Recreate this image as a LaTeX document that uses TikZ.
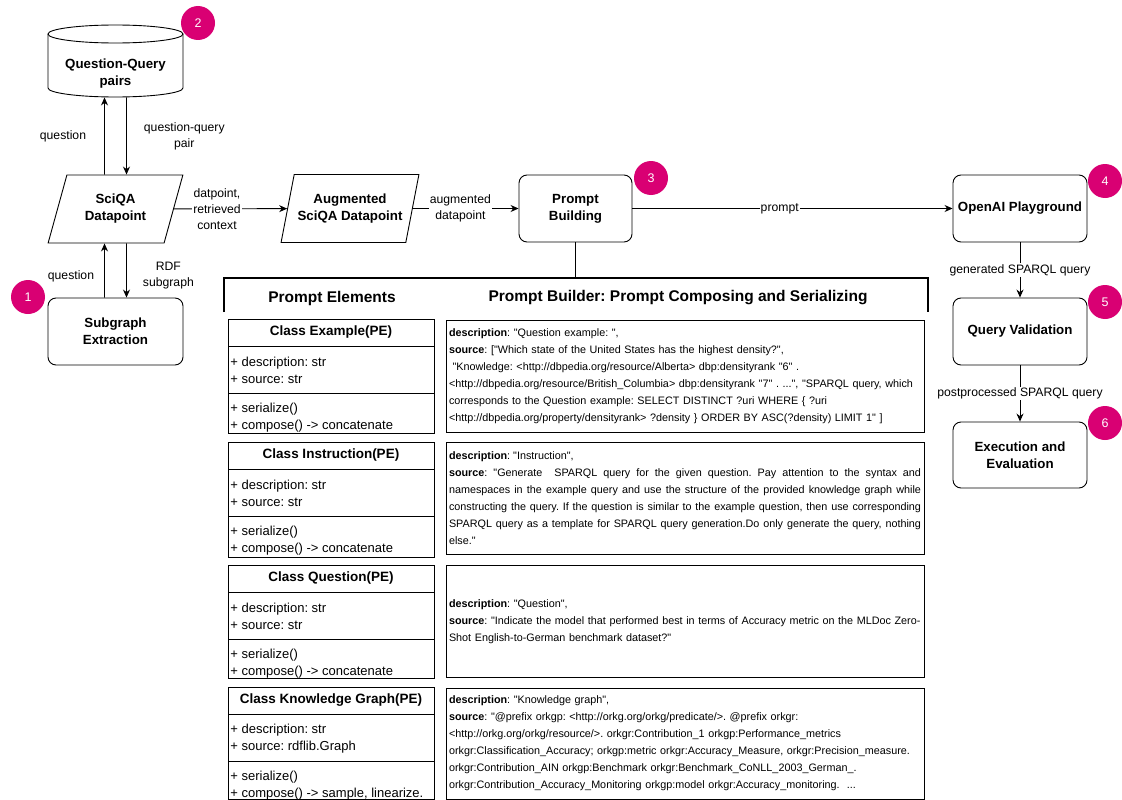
\documentclass[tikz,border=0pt]{standalone}
\usepackage{fontspec}
\setmainfont{Liberation Sans}[Ligatures=TeXOff]
\usetikzlibrary{shapes.geometric,arrows.meta,positioning}
\definecolor{badgepink}{RGB}{217,0,115}

\begin{document}
\frenchspacing
\begin{tikzpicture}[x=1pt,y=-1pt,line width=0.9pt,>={Stealth[length=8pt,width=7pt]}]
    \tikzstyle{block}=[draw, rounded corners=8pt, align=center, minimum width=134pt, minimum height=67pt, font=\fontsize{13.3}{17}\selectfont\bfseries]
    \tikzstyle{data}=[draw, trapezium, trapezium left angle=70, trapezium right angle=110, trapezium stretches=true, minimum width=135pt, minimum height=68pt, align=center, font=\fontsize{13.3}{17}\selectfont\bfseries]
    \tikzstyle{store}=[align=center, minimum width=135pt, minimum height=47pt, font=\fontsize{13.3}{17}\selectfont\bfseries]
    \tikzstyle{badge}=[circle, fill=badgepink, text=white, minimum size=34pt, inner sep=0pt, font=\fontsize{12.5}{14}\selectfont]
    \tikzstyle{elabel}=[align=center, inner sep=1pt, font=\fontsize{12.2}{16}\selectfont]
    \tikzstyle{clshead}=[font=\fontsize{13.5}{17}\selectfont\bfseries]
    \tikzstyle{clstext}=[anchor=west, align=left, inner sep=1pt, font=\fontsize{13}{17}\selectfont]
    \tikzstyle{pbox}=[draw, minimum width=478pt, minimum height=112pt, text width=472pt, inner xsep=3pt, align=left, font=\fontsize{10.8}{17}\selectfont]
    \useasboundingbox (0,0) rectangle (1122,800);

    % question-query store (cylinder)
    \draw (48,34) -- (48,88) arc[start angle=180, end angle=0, x radius=67.5, y radius=9] -- (183,34);
    \draw (115.5,34) ellipse[x radius=67.5, y radius=9];
    \node[store] (qqp) at (115.5,73.5) {Question-Query\\pairs};

    % main pipeline
    \node[data] (sciqa) at (115.5,209) {SciQA\\Datapoint};
    \node[block, minimum width=135pt] (sub) at (115.5,331.5) {Subgraph\\Extraction};
    \node[data] (aug) at (350,208.5) {Augmented\\SciQA Datapoint};
    \node[block, minimum width=113pt] (pb) at (575.5,208.5) {Prompt\\Building};
    \node[block] (op) at (1020,208.5) {OpenAI Playground};
    \node[block] (qv) at (1020,331.5) {Query Validation};
    \node[block, minimum height=66pt] (ex) at (1020,455) {Execution and\\Evaluation};

    \node[badge] (b1) at (28,297) {1};
    \node[badge] (b2) at (198,23) {2};
    \node[badge] (b3) at (651,178) {3};
    \node[badge] (b4) at (1105,181) {4};
    \node[badge] (b5) at (1105,302) {5};
    \node[badge] (b6) at (1105,423) {6};

    \draw[->] ([xshift=-11pt]sciqa.north) -- node[elabel, left=17pt] {question} ([xshift=-11pt]qqp.south);
    \draw[->] ([xshift=11pt]qqp.south) -- node[elabel, right=16pt] {question-query\\pair} ([xshift=11pt]sciqa.north);
    \draw[->] ([xshift=-11pt]sub.north) -- node[elabel, pos=0.4, left=9pt] {question} ([xshift=-11pt]sciqa.south);
    \draw[->] ([xshift=11pt]sciqa.south) -- node[elabel, pos=0.6, right=15pt] {RDF\\subgraph} ([xshift=11pt]sub.north);
    \draw[->] (sciqa) -- node[elabel, pos=0.38, fill=white] {datpoint,\\retrieved\\context} (aug);
    \draw[->] (aug) -- node[elabel, pos=0.45, fill=white] {augmented\\datapoint} (pb);
    \draw[->] (pb) -- node[elabel, pos=0.46, fill=white] {prompt} (op);
    \draw[->] (op) -- node[elabel, fill=white] {generated SPARQL query} (qv);
    \draw[->] (qv) -- node[elabel, fill=white] {postprocessed SPARQL query} (ex);

    % prompt builder bracket
    \coordinate (brk) at (575.5,278);
    \draw[line width=1.6pt] (pb.south) -- (brk);
    \draw[line width=1.6pt] (224,312) -- (224,278) -- (928,278) -- (928,312);
    \node[font=\fontsize{15.5}{17}\selectfont\bfseries] (pel) at (332,298) {Prompt Elements};
    \node[font=\fontsize{15.5}{17}\selectfont\bfseries] (pbl) at (678,298) {Prompt Builder: Prompt Composing and Serializing};

    % prompt element classes
    \draw (228,319) rectangle (434,433);
    \draw (228,346) -- (434,346);
    \draw (228,393) -- (434,393);
    \node[clshead] (c1h) at (331,332.5) {Class Example(PE)};
    \node[clstext] (c1a) at (229,370.5) {+ description: str\\+ source: str};
    \node[clstext] (c1m) at (229,418) {+ serialize()\\+ compose() -> concatenate};

    \draw (228,442) rectangle (434,557);
    \draw (228,469) -- (434,469);
    \draw (228,516) -- (434,516);
    \node[clshead] (c2h) at (331,455.5) {Class Instruction(PE)};
    \node[clstext] (c2a) at (229,493.5) {+ description: str\\+ source: str};
    \node[clstext] (c2m) at (229,541) {+ serialize()\\+ compose() -> concatenate};

    \draw (228,565) rectangle (434,678);
    \draw (228,592) -- (434,592);
    \draw (228,639) -- (434,639);
    \node[clshead] (c3h) at (331,578.5) {Class Question(PE)};
    \node[clstext] (c3a) at (229,616.5) {+ description: str\\+ source: str};
    \node[clstext] (c3m) at (229,664) {+ serialize()\\+ compose() -> concatenate};

    \draw (228,687) rectangle (434,799);
    \draw (228,714) -- (434,714);
    \draw (228,761) -- (434,761);
    \node[clshead] (c4h) at (331,700.5) {Class Knowledge Graph(PE)};
    \node[clstext] (c4a) at (229,738.5) {+ description: str\\+ source: rdflib.Graph};
    \node[clstext] (c4m) at (229,786) {+ serialize()\\+ compose() -> sample, linearize.};

    % serialized prompt parts
    \node[pbox] (p1) at (685,376) {\textbf{description}: "Question example: ",\\
        \textbf{source}: ["Which state of the United States has the highest density?",\\
        \ "Knowledge: <http://dbpedia.org/resource/Alberta> dbp:densityrank "6" .\\
        <http://dbpedia.org/resource/British\_Columbia> dbp:densityrank "7" . ...", "SPARQL query, which\\
        corresponds to the Question example: SELECT DISTINCT ?uri WHERE \{ ?uri\\
        <http://dbpedia.org/property/densityrank> ?density \} ORDER BY ASC(?density) LIMIT 1" ]};
    \node[pbox, align=justify] (p2) at (685,498) {\textbf{description}: "Instruction",\\
        \textbf{source}: "Generate~ SPARQL query for the given question. Pay attention to the syntax and\linebreak
        namespaces in the example query and use the structure of the provided knowledge graph while\linebreak
        constructing the query. If the question is similar to the example question, then use corresponding\linebreak
        SPARQL query as a template for SPARQL query generation.Do only generate the query, nothing\linebreak
        else."};
    \node[pbox] (p3) at (685,621.5) {\textbf{description}: "Question",\\
        \textbf{source}: "Indicate the model that performed best in terms of Accuracy metric on the MLDoc Zero-\\
        Shot English-to-German benchmark dataset?"};
    \node[pbox, minimum height=111pt] (p4) at (685,743.5) {\textbf{description}: "Knowledge graph",\\
        \textbf{source}: "@prefix orkgp: <http://orkg.org/orkg/predicate/>. @prefix orkgr:\\
        <http://orkg.org/orkg/resource/>. orkgr:Contribution\_1 orkgp:Performance\_metrics\\
        orkgr:Classification\_Accuracy; orkgp:metric orkgr:Accuracy\_Measure, orkgr:Precision\_measure.\\
        orkgr:Contribution\_AIN orkgp:Benchmark orkgr:Benchmark\_CoNLL\_2003\_German\_.\\
        orkgr:Contribution\_Accuracy\_Monitoring orkgp:model orkgr:Accuracy\_monitoring.~ ...};
\end{tikzpicture}
\end{document}
